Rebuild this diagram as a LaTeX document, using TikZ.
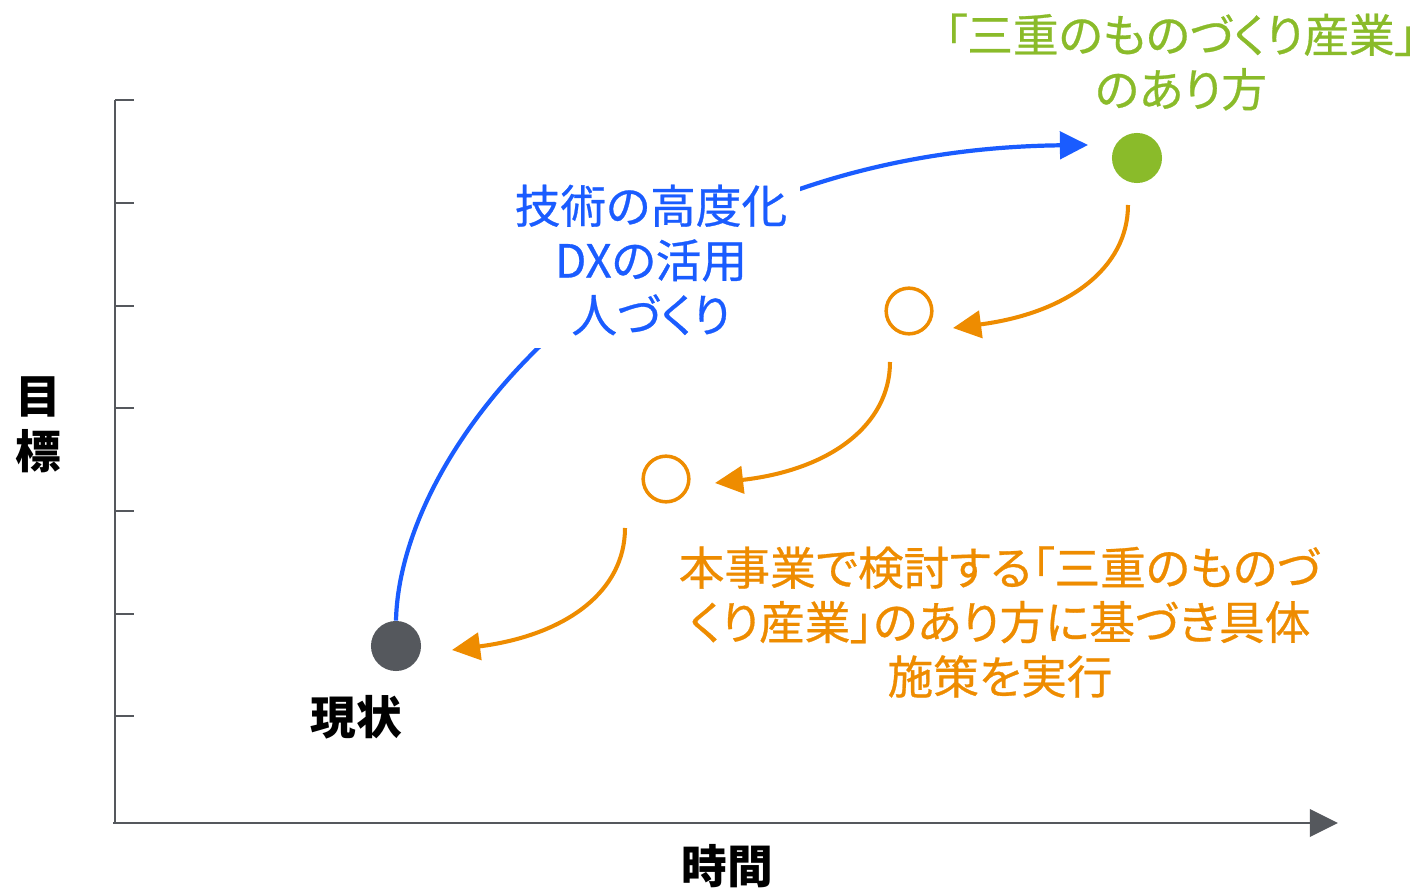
\documentclass[tikz,border=0pt]{standalone}
\usepackage{fontspec}
\setmainfont{Noto Sans CJK JP}
\newfontfamily\jpprop[RawFeature=+palt, FakeBold=0.6]{Noto Sans CJK JP}
\usetikzlibrary{arrows.meta}
\definecolor{axisgray}{HTML}{55585D}
\definecolor{dxblue}{HTML}{1A5CFF}
\definecolor{goalgreen}{HTML}{8ABB2A}
\definecolor{steporange}{HTML}{EE8C00}

\begin{document}
\begin{tikzpicture}[x=0.02cm, y=-0.02cm,
  axisline/.style={axisgray, line width=1.7pt},
  bigdot/.style={circle, minimum size=28.5pt, inner sep=0pt},
  stepdot/.style={circle, draw=steporange, line width=2pt, minimum size=26pt, inner sep=0pt},
  steparrow/.style={steporange, line width=2.3pt, -{Triangle[length=16pt,width=15.5pt]}},
  axistext/.style={font=\fontsize{26}{31}\selectfont\bfseries, align=center},
  colortext/.style={font=\fontsize{26}{31}\selectfont\jpprop, align=center}
]
\useasboundingbox (0,0) rectangle (1421,888);

% Axes
\draw[axisline] (115,100) -- (115,823);
\draw[axisline, -{Triangle[length=16pt,width=15.5pt]}] (113,823) -- (1338,823);
\foreach \ty in {100,203,306,408,511,614,716}
  \draw[axisline] (115,\ty) -- (134,\ty);
\node[axistext] (yname) at (38,425) {目\\標};
\node[axistext] (xname) at (727,866) {時間};

% Points
\node[bigdot, fill=axisgray] (now) at (396,646) {};
\node[axistext, anchor=center] (nowname) at (356,717) {現状};
\node[bigdot, fill=goalgreen] (goal) at (1137,158) {};
\node[stepdot] (stepA) at (909,311) {};
\node[stepdot] (stepB) at (666,479) {};

% Arrow ends
\coordinate (goalin) at (1088,145);
\coordinate (goalout) at (1128,205);
\coordinate (stepAin) at (953,328);
\coordinate (stepAout) at (890,362);
\coordinate (stepBin) at (715,483);
\coordinate (stepBout) at (625,528);
\coordinate (nowin) at (452,650);

% Blue path to the goal
\draw[dxblue, line width=2.4pt, -{Triangle[length=16pt,width=15.5pt]}] (now.north) .. controls (400,440) and (640,150) .. (goalin);
\node[colortext, text=dxblue, fill=white, inner sep=7pt] (means) at (651,260) {技術の高度化\\DXの活用\\人づくり};

% Orange steps back
\draw[steparrow] (goalout) .. controls (1128,268) and (1068,313) .. (stepAin);
\draw[steparrow] (stepAout) .. controls (890,425) and (830,470) .. (stepBin);
\draw[steparrow] (stepBout) .. controls (625,591) and (567,635) .. (nowin);

% Texts
\node[colortext, text=goalgreen, inner sep=0pt] (goalname) at (1181,62) {「三重のものづくり産業」\\のあり方};
\node[colortext, text=steporange] (stepname) at (1000,622) {本事業で検討する「三重のものづ\\くり産業」のあり方に基づき具体\\施策を実行};
\end{tikzpicture}
\end{document}
